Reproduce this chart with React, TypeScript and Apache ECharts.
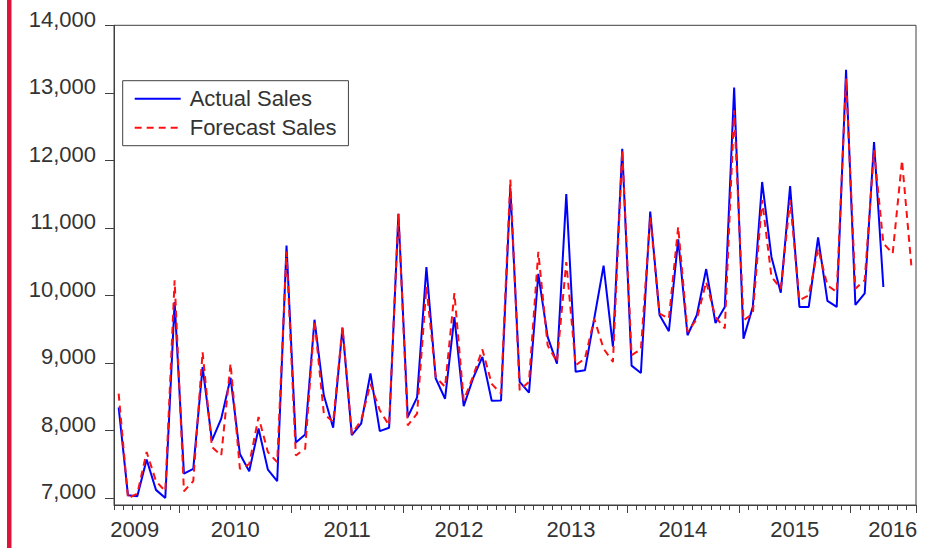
import React, { useEffect, useRef } from "react";
import * as echarts from "echarts";

// ---- data ----
const startYear = 2009;
const startMonth = 6; // first observation: June 2009
const monthCount = 86; // through July 2016

const yearLabels = ["2009", "2010", "2011", "2012", "2013", "2014", "2015", "2016"];
const yTickValues = [7000, 8000, 9000, 10000, 11000, 12000, 13000, 14000];

const actualSales: (number | null)[] = [
  8340, 7040, 7025, 7570, 7120, 7000, 9900,
  7360, 7430, 8940, 7850, 8175, 8780, 7650, 7395, 8030, 7420, 7250, 10740,
  7820, 7940, 9640, 8520, 8040, 9520, 7930, 8100, 8845, 7990, 8040, 11210,
  8200, 8490, 10420, 8770, 8470, 9680, 8360, 8770, 9090, 8440, 8445, 11590,
  8720, 8560, 10320, 9385, 8990, 11500, 8870, 8890, 9660, 10440, 9240, 12170,
  8960, 8850, 11240, 9710, 9470, 10830, 9410, 9710, 10390, 9590, 9830, 13080,
  9360, 9830, 11680, 10570, 10040, 11620, 9830, 9830, 10860, 9920, 9830, 13340,
  9860, 10030, 12270, 10125, null, null, null,
];

const forecastSales: number[] = [
  8545, 6995, 7065, 7680, 7250, 7100, 10225,
  7100, 7250, 9160, 7755, 7630, 8990, 7430, 7500, 8200, 7680, 7530, 10650,
  7630, 7730, 9630, 8250, 8125, 9530, 7950, 8150, 8690, 8300, 8075, 11210,
  8075, 8250, 10125, 8790, 8645, 10035, 8445, 8800, 9200, 8690, 8545, 11715,
  8595, 8720, 10645, 9260, 9015, 10495, 8965, 9065, 9655, 9210, 9015, 12150,
  9115, 9200, 11160, 9730, 9655, 11015, 9460, 9650, 10200, 9680, 9510, 12740,
  9630, 9730, 11410, 10275, 10100, 11410, 9930, 10000, 10695, 10150, 10050, 13210,
  10100, 10225, 12150, 10770, 10620, 12000, 10445,
];

// month categories
const months: string[] = [];
for (let i = 0; i < monthCount; i++) {
  const m = startMonth - 1 + i;
  const y = startYear + Math.floor(m / 12);
  const mm = (m % 12) + 1;
  months.push(`${y}M${String(mm).padStart(2, "0")}`);
}

// where each year label sits on the month axis (and which rich style shifts it)
const yearLabelAt: Record<string, string> = {};
yearLabels.forEach((yr) => {
  if (yr === "2009") yearLabelAt[`${yr}M07`] = `{a|${yr}}`;
  else if (yr === "2016") yearLabelAt[`${yr}M05`] = `{n|${yr}}`;
  else yearLabelAt[`${yr}M06`] = `{s|${yr}}`;
});

const FONT = "'Liberation Sans', Arial, Helvetica, sans-serif";
const TEXT = "#333333";
const AXIS = "#404040";

export default function App() {
  const ref = useRef<HTMLDivElement>(null);

  useEffect(() => {
    if (!ref.current) return;
    const chart = echarts.init(ref.current, undefined, { renderer: "svg" });
    const band = 802 / monthCount;
    const labelStyle = { fontSize: 22, fontFamily: FONT, color: TEXT };

    chart.setOption({
      animation: false,
      backgroundColor: "#ffffff",
      textStyle: { fontFamily: FONT },
      grid: {
        left: 114,
        right: 9,
        top: 25.3,
        bottom: 43,
        show: true,
        borderColor: AXIS,
        borderWidth: 1,
        backgroundColor: "transparent",
      },
      legend: {
        left: 122.7,
        top: 80.7,
        orient: "vertical",
        selectedMode: false,
        borderColor: AXIS,
        borderWidth: 1,
        borderRadius: 0,
        padding: [7, 12, 7, 11],
        itemGap: 7,
        itemWidth: 46,
        itemHeight: 22,
        itemStyle: { opacity: 0 },
        textStyle: { fontSize: 22, color: TEXT, fontFamily: FONT, padding: [0, 0, 0, 4] },
        data: ["Actual Sales", "Forecast Sales"],
      },
      xAxis: [
        {
          type: "category",
          data: months,
          boundaryGap: true,
          position: "bottom",
          axisLine: { show: true, lineStyle: { color: AXIS, width: 1 } },
          axisTick: { show: true, interval: 0, length: 5, lineStyle: { color: AXIS, width: 1 } },
          splitLine: { show: false },
          axisLabel: {
            show: true,
            interval: (_i: number, v: string) => yearLabelAt[v] !== undefined,
            formatter: (v: string) => yearLabelAt[v] || "",
            margin: 13,
            ...labelStyle,
            rich: {
              a: { ...labelStyle, padding: [0, 0, 0, band * 1.43] },
              s: { ...labelStyle, padding: [0, 0, 0, band] },
              n: { ...labelStyle },
            },
          },
        },
        {
          type: "category",
          data: months,
          boundaryGap: true,
          position: "bottom",
          axisLine: { show: false },
          axisTick: {
            show: true,
            interval: (_i: number, v: string) => v.endsWith("M01"),
            length: 8,
            lineStyle: { color: AXIS, width: 1 },
          },
          axisLabel: { show: false },
          splitLine: { show: false },
        },
      ],
      yAxis: {
        type: "value",
        min: 6896,
        max: 14000,
        axisLine: { show: true, lineStyle: { color: AXIS, width: 1 } },
        axisTick: {
          show: true,
          length: 9,
          customValues: yTickValues,
          lineStyle: { color: AXIS, width: 1 },
        },
        splitLine: { show: false },
        axisLabel: {
          show: true,
          customValues: yTickValues,
          margin: 18,
          ...labelStyle,
          formatter: (v: number) =>
            `{v|${String(v).replace(/\B(?=(\d{3})+(?!\d))/g, ",")}}`,
          rich: {
            v: { ...labelStyle, padding: [0, 0, 12, 0] },
          },
        },
      },
      series: [
        {
          name: "Actual Sales",
          type: "line",
          xAxisIndex: 0,
          data: actualSales,
          symbol: "none",
          connectNulls: false,
          lineStyle: { color: "#0000ff", width: 2 },
          itemStyle: { color: "#0000ff" },
          z: 2,
        },
        {
          name: "Forecast Sales",
          type: "line",
          xAxisIndex: 0,
          data: forecastSales,
          symbol: "none",
          lineStyle: { color: "#ff1010", width: 2, type: [7, 5] },
          itemStyle: { color: "#ff1010" },
          z: 3,
        },
      ],
      graphic: [
        {
          type: "rect",
          left: 7,
          top: 0,
          shape: { width: 4.5, height: 548 },
          style: { fill: "#dc143c" },
          silent: true,
        },
      ],
    });

    return () => chart.dispose();
  }, []);

  return (
    <div
      ref={ref}
      style={{ position: "fixed", left: 0, top: 0, width: 925, height: 548, background: "#fff" }}
    />
  );
}
